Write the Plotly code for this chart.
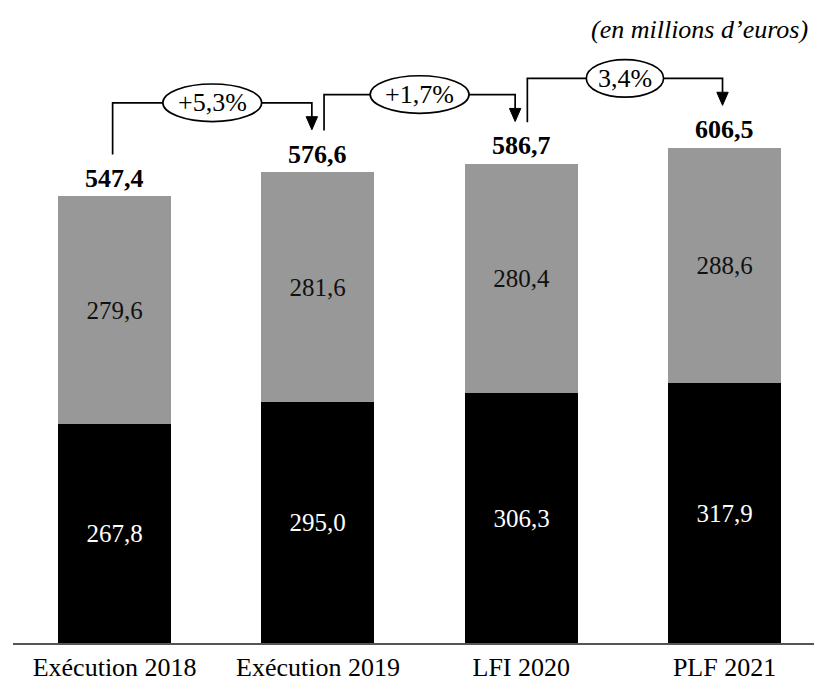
import plotly.graph_objects as go

# Budget data (millions of euros)
categories = ["Exécution 2018", "Exécution 2019", "LFI 2020", "PLF 2021"]
lower_values = [267.8, 295.0, 306.3, 317.9]   # black segment
upper_values = [279.6, 281.6, 280.4, 288.6]   # grey segment
totals = [547.4, 576.6, 586.7, 606.5]
growth_labels = ["+5,3%", "+1,7%", "3,4%"]

FONT = "'Liberation Serif', 'DejaVu Serif', serif"
GREY = "#989898"
BAR_W = 0.556


def fr(v):
    return f"{v:.1f}".replace(".", ",")


fig = go.Figure()
fig.add_trace(go.Bar(
    x=list(range(len(categories))), y=lower_values, width=BAR_W,
    marker=dict(color="#000000", line=dict(width=0)),
    text=[fr(v) for v in lower_values], textposition="inside",
    insidetextanchor="middle", textangle=0,
    textfont=dict(family=FONT, size=25, color="#ffffff"),
    hoverinfo="skip",
))
fig.add_trace(go.Bar(
    x=list(range(len(categories))), y=upper_values, width=BAR_W,
    marker=dict(color=GREY, line=dict(width=0)),
    text=[fr(v) for v in upper_values], textposition="inside",
    insidetextanchor="middle", textangle=0,
    textfont=dict(family=FONT, size=25, color="#111111"),
    hoverinfo="skip",
))

annotations = []
shapes = []

# Totals above each bar
for i, t in enumerate(totals):
    annotations.append(dict(
        x=i, y=t, xref="x", yref="y", text=f"<b>{fr(t)}</b>", showarrow=False,
        yanchor="middle", yshift=18, font=dict(family=FONT, size=26, color="#000000"),
    ))

# Growth connectors between consecutive bars
START_GAP = 51      # vertical gap above the bar total where the connector starts
TIP_GAP = 52        # gap above the next total where the arrow ends
RISE = 85           # horizontal run level above the next total
HEAD_W = 0.028      # half width of arrowhead (x units)
HEAD_H = 16         # arrowhead height (y units)
ELL_H = 23          # half height of label ellipse (y units)

for i, lab in enumerate(growth_labels):
    x0 = i - 0.01 if i == 0 else i + 0.03
    x1 = i + 1 - 0.01 if i + 1 == len(totals) - 1 else i + 1 - 0.03
    y0 = totals[i] + START_GAP
    ytip = totals[i + 1] + TIP_GAP
    ylev = totals[i + 1] + RISE
    shapes.append(dict(
        type="path", xref="x", yref="y",
        path=f"M {x0},{y0} L {x0},{ylev} L {x1},{ylev} L {x1},{ytip + HEAD_H}",
        line=dict(color="#000000", width=1.7),
    ))
    shapes.append(dict(
        type="path", xref="x", yref="y",
        path=f"M {x1 - HEAD_W},{ytip + HEAD_H} L {x1 + HEAD_W},{ytip + HEAD_H} L {x1},{ytip} Z",
        fillcolor="#000000", line=dict(color="#000000", width=1),
    ))
    xm = (x0 + x1) / 2
    half_w = 0.243 if len(lab) >= 5 else 0.19
    shapes.append(dict(
        type="circle", xref="x", yref="y",
        x0=xm - half_w, x1=xm + half_w, y0=ylev - ELL_H, y1=ylev + ELL_H,
        fillcolor="#ffffff", line=dict(color="#000000", width=1.7),
    ))
    annotations.append(dict(
        x=xm, y=ylev, xref="x", yref="y", text=lab, showarrow=False,
        font=dict(family=FONT, size=26, color="#000000"),
    ))

annotations.append(dict(
    x=1, y=0.9535, xref="paper", yref="paper", xanchor="right", yanchor="middle",
    xshift=-4, text="<i>(en millions d’euros)</i>", showarrow=False,
    font=dict(family=FONT, size=26, color="#000000"),
))

fig.update_layout(
    barmode="stack",
    width=814, height=682,
    margin=dict(l=13, r=0, t=0, b=37, pad=0),
    paper_bgcolor="#ffffff", plot_bgcolor="#ffffff",
    showlegend=False,
    bargap=0,
    xaxis=dict(
        range=[-0.5, 3.44], tickmode="array",
        tickvals=list(range(len(categories))), ticktext=categories,
        showgrid=False, zeroline=False, showline=True,
        linecolor="#555555", linewidth=1.5, ticks="",
        tickfont=dict(family=FONT, size=26, color="#000000"),
    ),
    yaxis=dict(
        range=[0, 787.5], visible=False, showgrid=False, zeroline=False,
    ),
    annotations=annotations,
    shapes=shapes,
)

fig.write_html("out.html")
